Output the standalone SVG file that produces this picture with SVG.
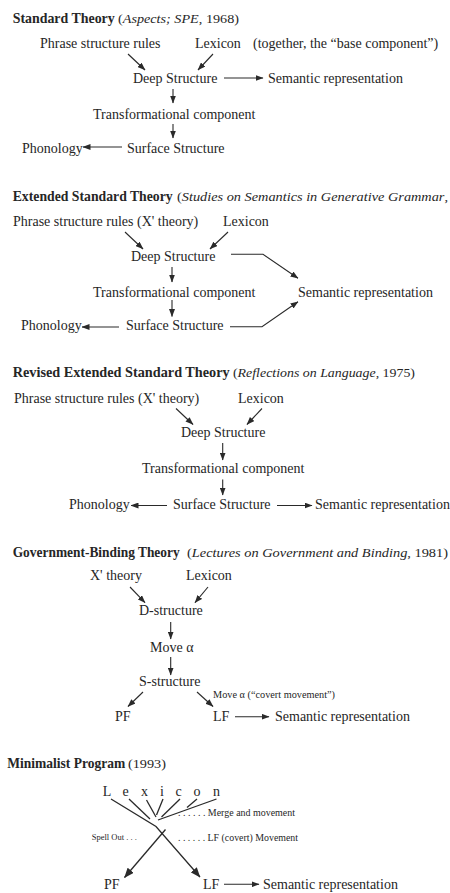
<svg xmlns="http://www.w3.org/2000/svg" width="450" height="893" viewBox="0 0 450 893">
  <style>
    text { font-family: "Liberation Serif", "Times New Roman", serif; fill: #262626; }
    .n { font-size: 14px; }
    .h { font-size: 14px; font-weight: bold; }
    .p { font-size: 13.5px; }
    .i { font-style: italic; }
    .s { font-size: 9.5px; }
    .t { font-size: 8.5px; }
    .c { fill: none; stroke: #2a2a2a; stroke-width: 1.1; }
    .w { fill: none; stroke: #2a2a2a; stroke-width: 1.3; }
  </style>
  <defs>
    <marker id="ah" markerUnits="userSpaceOnUse" markerWidth="8" markerHeight="6" refX="7.5" refY="3" orient="auto">
      <path d="M0,0 L8,3 L0,6 z" fill="#2a2a2a"/>
    </marker>
    <marker id="ahl" markerUnits="userSpaceOnUse" markerWidth="10" markerHeight="8" refX="9.5" refY="4" orient="auto">
      <path d="M0,0 L10,4 L0,8 z" fill="#2a2a2a"/>
    </marker>
  </defs>
  <rect width="450" height="893" fill="#ffffff"/>

  <!-- ===== Standard Theory ===== -->
  <g id="st-title">
    <text class="h" x="12.7" y="22.5" textLength="102" lengthAdjust="spacingAndGlyphs">Standard Theory</text>
    <text class="p" x="118" y="22.5" textLength="121" lengthAdjust="spacingAndGlyphs">(<tspan class="i">Aspects; SPE</tspan>, 1968)</text>
  </g>
  <g id="st-psr"><text class="n" x="40" y="48">Phrase structure rules</text></g>
  <g id="st-lex"><text class="n" x="195" y="48">Lexicon</text></g>
  <g id="st-note"><text class="n" x="253" y="48">(together, the “base component”)</text></g>
  <g id="st-deep"><text class="n" x="133" y="83">Deep Structure</text></g>
  <g id="st-sem"><text class="n" x="268" y="83">Semantic representation</text></g>
  <g id="st-trans"><text class="n" x="93" y="119">Transformational component</text></g>
  <g id="st-surf"><text class="n" x="127" y="152.5">Surface Structure</text></g>
  <g id="st-phon"><text class="n" x="22" y="152.5">Phonology</text></g>

  <!-- ===== Extended Standard Theory ===== -->
  <g id="est-title">
    <text class="h" x="12.7" y="201" textLength="160" lengthAdjust="spacingAndGlyphs">Extended Standard Theory</text>
    <text class="p" x="177" y="201" textLength="271" lengthAdjust="spacingAndGlyphs">(<tspan class="i">Studies on Semantics in Generative Grammar</tspan>,</text>
  </g>
  <g id="est-psr"><text class="n" x="13" y="225.5">Phrase structure rules (X' theory)</text></g>
  <g id="est-lex"><text class="n" x="223" y="225.5">Lexicon</text></g>
  <g id="est-deep"><text class="n" x="131" y="261">Deep Structure</text></g>
  <g id="est-trans"><text class="n" x="93" y="296.5">Transformational component</text></g>
  <g id="est-sem"><text class="n" x="298" y="296.5">Semantic representation</text></g>
  <g id="est-surf"><text class="n" x="126" y="330">Surface Structure</text></g>
  <g id="est-phon"><text class="n" x="21" y="330">Phonology</text></g>

  <!-- ===== Revised Extended Standard Theory ===== -->
  <g id="rest-title">
    <text class="h" x="12.7" y="376.5" textLength="217" lengthAdjust="spacingAndGlyphs">Revised Extended Standard Theory</text>
    <text class="p" x="233" y="376.5" textLength="182" lengthAdjust="spacingAndGlyphs">(<tspan class="i">Reflections on Language</tspan>, 1975)</text>
  </g>
  <g id="rest-psr"><text class="n" x="14" y="402.5">Phrase structure rules (X' theory)</text></g>
  <g id="rest-lex"><text class="n" x="238" y="402.5">Lexicon</text></g>
  <g id="rest-deep"><text class="n" x="181" y="437">Deep Structure</text></g>
  <g id="rest-trans"><text class="n" x="142" y="472.5">Transformational component</text></g>
  <g id="rest-phon"><text class="n" x="69" y="508.5">Phonology</text></g>
  <g id="rest-surf"><text class="n" x="173" y="508.5">Surface Structure</text></g>
  <g id="rest-sem"><text class="n" x="315" y="508.5">Semantic representation</text></g>

  <!-- ===== Government-Binding Theory ===== -->
  <g id="gb-title">
    <text class="h" x="12.7" y="556.5" textLength="167" lengthAdjust="spacingAndGlyphs">Government-Binding Theory</text>
    <text class="p" x="187" y="556.5" textLength="261" lengthAdjust="spacingAndGlyphs">(<tspan class="i">Lectures on Government and Binding</tspan>, 1981)</text>
  </g>
  <g id="gb-xbar"><text class="n" x="90" y="580">X' theory</text></g>
  <g id="gb-lex"><text class="n" x="186" y="580">Lexicon</text></g>
  <g id="gb-d"><text class="n" x="139" y="615">D-structure</text></g>
  <g id="gb-move"><text class="n" x="150" y="651.5">Move α</text></g>
  <g id="gb-s"><text class="n" x="139" y="686">S-structure</text></g>
  <g id="gb-covert"><text class="s" x="213" y="698" textLength="122" lengthAdjust="spacingAndGlyphs">Move α (“covert movement”)</text></g>
  <g id="gb-pf"><text class="n" x="115" y="720.5">PF</text></g>
  <g id="gb-lf"><text class="n" x="213" y="720.5">LF</text></g>
  <g id="gb-sem"><text class="n" x="275" y="720.5">Semantic representation</text></g>

  <!-- ===== Minimalist Program ===== -->
  <g id="mp-title">
    <text class="h" x="7.3" y="768" textLength="118" lengthAdjust="spacingAndGlyphs">Minimalist Program</text>
    <text class="p" x="128" y="768" textLength="38" lengthAdjust="spacingAndGlyphs">(1993)</text>
  </g>
  <g id="mp-lex"><text class="n" x="102.7 122.4 141 160 175.4 193.5 213" y="796">Lexicon</text></g>
  <g id="mp-merge"><text class="s" x="178" y="816" textLength="117" lengthAdjust="spacingAndGlyphs">. . . . . . Merge and movement</text></g>
  <g id="mp-spell"><text class="t" x="91.7" y="839.5">Spell Out . . .</text></g>
  <g id="mp-covert"><text class="s" x="178" y="840.5" textLength="120" lengthAdjust="spacingAndGlyphs">. . . . . . LF (covert) Movement</text></g>
  <g id="mp-pf"><text class="n" x="104" y="888.5">PF</text></g>
  <g id="mp-lf"><text class="n" x="203" y="888.5">LF</text></g>
  <g id="mp-sem"><text class="n" x="263" y="888.5">Semantic representation</text></g>

  <!-- ===== connectors ===== -->
  <g id="connectors">
    <!-- Standard Theory -->
    <line class="c" x1="128" y1="54" x2="145" y2="70" marker-end="url(#ah)"/>
    <line class="c" x1="213" y1="54" x2="198" y2="70" marker-end="url(#ah)"/>
    <line class="c" x1="224" y1="78" x2="263" y2="78" marker-end="url(#ah)"/>
    <line class="c" x1="173" y1="89" x2="173" y2="103" marker-end="url(#ah)"/>
    <line class="c" x1="173" y1="124" x2="173" y2="138" marker-end="url(#ah)"/>
    <line class="c" x1="122" y1="147" x2="83" y2="147" marker-end="url(#ah)"/>

    <!-- Extended Standard Theory -->
    <line class="c" x1="125" y1="232" x2="143" y2="249" marker-end="url(#ah)"/>
    <line class="c" x1="228" y1="232" x2="210" y2="249" marker-end="url(#ah)"/>
    <polyline class="c" points="231,254.3 263,254.3 298,278.3" marker-end="url(#ah)"/>
    <line class="c" x1="172" y1="267" x2="172" y2="282" marker-end="url(#ah)"/>
    <line class="c" x1="172" y1="300" x2="172" y2="316.5" marker-end="url(#ah)"/>
    <line class="c" x1="119" y1="327" x2="82" y2="327" marker-end="url(#ah)"/>
    <polyline class="c" points="230,326.7 262,326.7 298,301.7" marker-end="url(#ah)"/>

    <!-- Revised Extended Standard Theory -->
    <line class="c" x1="176" y1="408.5" x2="193" y2="424.5" marker-end="url(#ah)"/>
    <line class="c" x1="262" y1="408.5" x2="247" y2="424.5" marker-end="url(#ah)"/>
    <line class="c" x1="222.7" y1="443" x2="222.7" y2="460" marker-end="url(#ah)"/>
    <line class="c" x1="222.7" y1="479.5" x2="222.7" y2="495" marker-end="url(#ah)"/>
    <line class="c" x1="167" y1="505.5" x2="131" y2="505.5" marker-end="url(#ah)"/>
    <line class="c" x1="277" y1="505.5" x2="312" y2="505.5" marker-end="url(#ah)"/>

    <!-- Government-Binding Theory -->
    <line class="c" x1="130" y1="587" x2="145" y2="602.7" marker-end="url(#ah)"/>
    <line class="c" x1="208" y1="587" x2="195" y2="602.7" marker-end="url(#ah)"/>
    <line class="c" x1="170.7" y1="622" x2="170.7" y2="639" marker-end="url(#ah)"/>
    <line class="c" x1="170.7" y1="657" x2="170.7" y2="675" marker-end="url(#ah)"/>
    <line class="c" x1="143" y1="692" x2="128" y2="706.5" marker-end="url(#ah)"/>
    <line class="c" x1="197" y1="692" x2="213" y2="706.5" marker-end="url(#ah)"/>
    <line class="c" x1="235" y1="716.7" x2="269" y2="716.7" marker-end="url(#ah)"/>

    <!-- Minimalist Program: lexical items merging into one tree -->
    <line class="w" x1="129" y1="799" x2="150" y2="819"/>
    <line class="w" x1="146.5" y1="800" x2="156" y2="817"/>
    <line class="w" x1="163" y1="799" x2="156.5" y2="815"/>
    <line class="w" x1="180" y1="799" x2="161.5" y2="817"/>
    <line class="w" x1="197" y1="799" x2="187" y2="807.5"/>
    <line class="w" x1="216.5" y1="799" x2="158" y2="820"/>
    <polyline class="w" points="111,799 156,826.5 200,877" marker-end="url(#ahl)"/>
    <line class="w" x1="165.5" y1="829.5" x2="124.5" y2="877.5" marker-end="url(#ahl)"/>
    <line class="c" x1="224" y1="884.3" x2="259" y2="884.3" marker-end="url(#ah)"/>
  </g>
</svg>
